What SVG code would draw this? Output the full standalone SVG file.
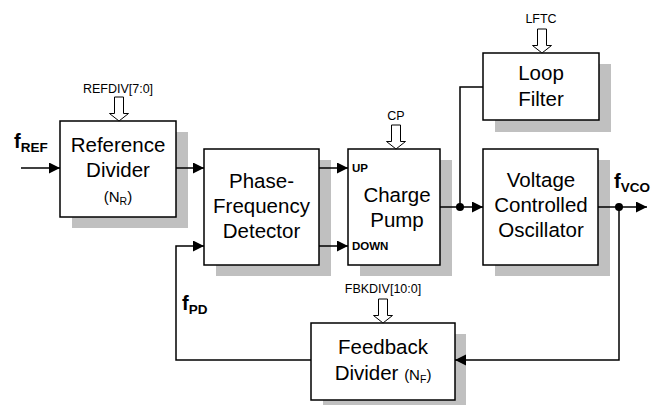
<svg xmlns="http://www.w3.org/2000/svg" width="664" height="405" viewBox="0 0 664 405">
<defs>
<style>
.box{fill:#fff;stroke:#000;stroke-width:1.5}
.sh{fill:#c0c0c0;stroke:none}
.t{font-family:"Liberation Sans",Arial,sans-serif;font-size:20.5px;text-anchor:middle;fill:#000}
.s{font-family:"Liberation Sans",Arial,sans-serif;font-size:12.5px;text-anchor:middle;fill:#000}
.b{font-family:"Liberation Sans",Arial,sans-serif;font-weight:bold;fill:#000}
.w{fill:none;stroke:#000;stroke-width:1.5}
.ha{fill:#fff;stroke:#000;stroke-width:1}
</style>
<marker id="ah" markerUnits="userSpaceOnUse" markerWidth="12" markerHeight="12" refX="11" refY="5.5" orient="auto">
<path d="M0,0 L11,5.5 L0,11 Z" fill="#000"/>
</marker>
<path id="hollow" d="M-4.5,-24 V-7.5 H-9.5 L0,0 L9.5,-7.5 H4.5 V-24 Z"/>
</defs>
<rect width="664" height="405" fill="#fff"/>

<g id="refdiv">
<rect class="sh" x="72" y="132" width="116" height="96"/>
<rect class="box" x="60" y="121" width="116" height="96"/>
<text class="t" x="118" y="151.5">Reference</text>
<text class="t" x="118" y="176.5">Divider</text>
<text class="t" x="118" y="201.5" style="font-size:15px">(N<tspan font-size="10.5" dy="3">R</tspan><tspan dy="-3">)</tspan></text>
<text class="s" x="118" y="92.5">REFDIV[7:0]</text>
<use href="#hollow" class="ha" x="119" y="121"/>
</g>

<g id="pfd">
<rect class="sh" x="216" y="160" width="115" height="116"/>
<rect class="box" x="204" y="149" width="115" height="116"/>
<text class="t" x="261.5" y="188">Phase-</text>
<text class="t" x="261.5" y="213">Frequency</text>
<text class="t" x="261.5" y="238">Detector</text>
</g>

<g id="cp">
<rect class="sh" x="360" y="160" width="92" height="116"/>
<rect class="box" x="348" y="149" width="92" height="116"/>
<text class="t" x="397" y="201.5">Charge</text>
<text class="t" x="397" y="226.5">Pump</text>
<text class="b" x="352" y="172" font-size="11.5">UP</text>
<text class="b" x="352" y="249.5" font-size="11.5">DOWN</text>
<text class="s" x="396" y="120">CP</text>
<use href="#hollow" class="ha" x="396" y="149"/>
</g>

<g id="loopfilter">
<rect class="sh" x="495" y="64" width="116" height="68"/>
<rect class="box" x="483" y="53" width="116" height="67"/>
<text class="t" x="541" y="80">Loop</text>
<text class="t" x="541" y="106">Filter</text>
<text class="s" x="541" y="22.5">LFTC</text>
<use href="#hollow" class="ha" x="542" y="53"/>
</g>

<g id="vco">
<rect class="sh" x="495" y="160" width="115" height="116"/>
<rect class="box" x="483" y="149" width="115" height="116"/>
<text class="t" x="541" y="187">Voltage</text>
<text class="t" x="541" y="212">Controlled</text>
<text class="t" x="541" y="237">Oscillator</text>
</g>

<g id="fbdiv">
<rect class="sh" x="323" y="334" width="143" height="78"/>
<rect class="box" x="311" y="323" width="144" height="77"/>
<text class="t" x="383" y="354">Feedback</text>
<text class="t" x="383" y="380">Divider <tspan font-size="15">(N<tspan font-size="10.5" dy="3">F</tspan><tspan dy="-3">)</tspan></tspan></text>
<text class="s" x="383" y="293">FBKDIV[10:0]</text>
<use href="#hollow" class="ha" x="383" y="323"/>
</g>

<g id="connectors">
<path class="w" d="M21,168 H60" marker-end="url(#ah)"/>
<path class="w" d="M176,168 H204" marker-end="url(#ah)"/>
<path class="w" d="M319,168 H348" marker-end="url(#ah)"/>
<path class="w" d="M319,246 H348" marker-end="url(#ah)"/>
<path class="w" d="M440,207 H483" marker-end="url(#ah)"/>
<path class="w" d="M460,207 V87 H483"/>
<path class="w" d="M598,207 H647" marker-end="url(#ah)"/>
<path class="w" d="M619,207 V360 H455" marker-end="url(#ah)"/>
<path class="w" d="M311,360 H176 V246 H204" marker-end="url(#ah)"/>
<circle cx="460" cy="207" r="4"/>
<circle cx="619" cy="207" r="4"/>
</g>

<g id="labels">
<text class="b" x="14" y="148" font-size="20">f<tspan font-size="13.5" dy="4">REF</tspan></text>
<text class="b" x="614" y="188" font-size="20">f<tspan font-size="13.5" dy="4">VCO</tspan></text>
<text class="b" x="182" y="310" font-size="20">f<tspan font-size="13.5" dy="4">PD</tspan></text>
</g>
</svg>
